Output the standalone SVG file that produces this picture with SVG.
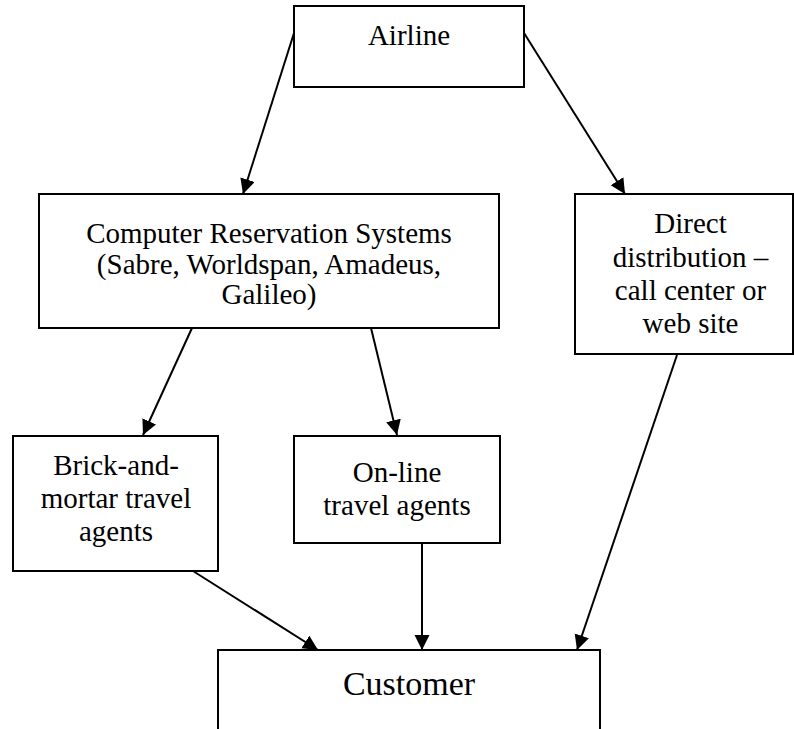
<svg xmlns="http://www.w3.org/2000/svg" width="794" height="729" viewBox="0 0 794 729">
<style>
.box{fill:#fff;stroke:#000;stroke-width:2}
.t{font-family:"Liberation Serif","Times New Roman",serif;font-size:29px;fill:#000;text-anchor:middle}
.big{font-size:34px}
.c{stroke:#000;stroke-width:2;fill:none;marker-end:url(#ah)}
</style>
<defs>
<marker id="ah" markerUnits="userSpaceOnUse" markerWidth="16" markerHeight="16" refX="15" refY="7.5" orient="auto">
<path d="M0,0 L15,7.5 L0,15 z" fill="#000"/>
</marker>
</defs>
<rect width="794" height="729" fill="#fff"/>
<g id="airline">
<rect class="box" x="294" y="6" width="230" height="81"/>
<text class="t" x="409" y="45">Airline</text>
</g>
<g id="crs">
<rect class="box" x="39" y="194" width="460" height="134"/>
<text class="t" x="269" y="243">Computer Reservation Systems</text>
<text class="t" x="269" y="274">(Sabre, Worldspan, Amadeus,</text>
<text class="t" x="269" y="304">Galileo)</text>
</g>
<g id="direct">
<rect class="box" x="575" y="194" width="218" height="160"/>
<text class="t" x="690.5" y="233">Direct</text>
<text class="t" x="690.5" y="267">distribution –</text>
<text class="t" x="690.5" y="300">call center or</text>
<text class="t" x="690.5" y="333">web site</text>
</g>
<g id="brick">
<rect class="box" x="13" y="436" width="205" height="135"/>
<text class="t" x="116" y="475">Brick-and-</text>
<text class="t" x="116" y="508">mortar travel</text>
<text class="t" x="116" y="541">agents</text>
</g>
<g id="online">
<rect class="box" x="294" y="436" width="206" height="107"/>
<text class="t" x="397" y="482">On-line</text>
<text class="t" x="397" y="515">travel agents</text>
</g>
<g id="customer">
<rect class="box" x="218" y="650" width="382" height="100"/>
<text class="t big" x="409" y="695">Customer</text>
</g>
<g id="connectors">
<line class="c" x1="294" y1="33" x2="243" y2="194"/>
<line class="c" x1="524" y1="33" x2="625" y2="194"/>
<line class="c" x1="192" y1="328" x2="143" y2="435"/>
<line class="c" x1="371" y1="328" x2="397" y2="435"/>
<line class="c" x1="193" y1="571" x2="318" y2="650"/>
<line class="c" x1="422" y1="543" x2="422" y2="650"/>
<line class="c" x1="677" y1="355" x2="577" y2="650"/>
</g>
</svg>
